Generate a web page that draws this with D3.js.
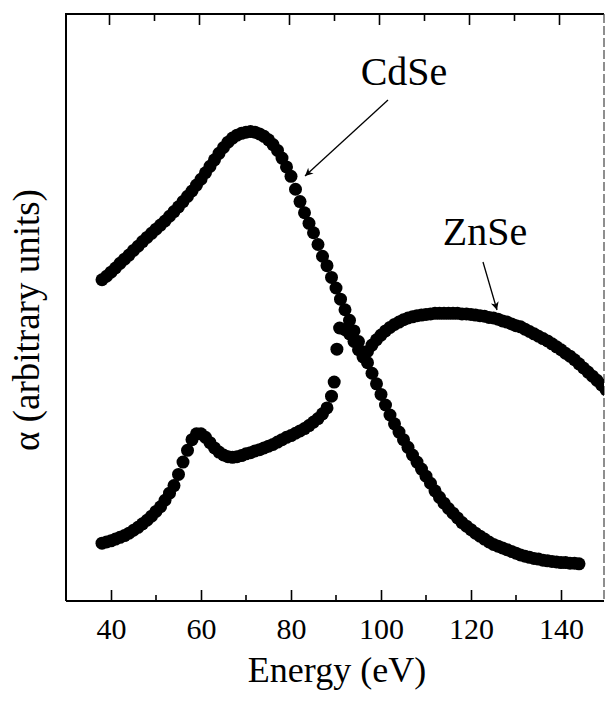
<!DOCTYPE html>
<html>
<head>
<meta charset="utf-8">
<script src="https://cdn.jsdelivr.net/npm/d3@7"></script>
<style>
  html, body { margin: 0; padding: 0; background: #fff; }
  svg { display: block; }
  svg text { fill: #000; }
</style>
</head>
<body>
<svg id="chart" width="605" height="705"></svg>
<script>
// Absorption coefficient (arbitrary units) versus photon energy (eV)
const cdseEnergy = [38,39,40,41,42,43,44,45,46,47,48,49,50,51,52,53,54,55,56,57,58,59,60,61,62,63,64,65,66,67,68,69,70,71,72,73,74,75,76,77,78,79,80,81,82,83,84,85,86,87,88,89,90,91,92,93,94,95,96,97,98,99,100,101,102,103,104,105,106,107,108,109,110,111,112,113,114,115,116,117,118,119,120,121,122,123,124,125,126,127,128,129,130,131,132,133,134,135,136,137,138,139,140,141,142,143,144];
const cdseAlpha = [54.8,55.4,56.1,56.8,57.6,58.3,59.0,59.8,60.5,61.3,62.0,62.7,63.4,64.1,64.8,65.6,66.4,67.2,68.1,69.0,69.9,70.9,71.9,73.0,74.1,75.2,76.3,77.3,78.2,78.9,79.4,79.7,79.9,80.0,79.9,79.6,79.2,78.6,77.8,76.8,75.5,74.0,72.4,70.2,68.1,66.2,64.4,62.8,60.8,58.8,57.2,55.2,53.4,51.5,49.7,47.9,46.1,44.3,42.5,40.7,38.9,37.1,35.3,33.5,31.8,30.3,28.9,27.6,26.3,25.0,23.8,22.6,21.4,20.2,18.9,17.8,16.8,15.9,15.1,14.3,13.5,12.9,12.3,11.7,11.2,10.7,10.2,9.8,9.5,9.2,8.9,8.6,8.3,8.0,7.8,7.6,7.4,7.3,7.1,7.0,6.9,6.8,6.7,6.7,6.6,6.6,6.5];

const znseEnergy = [38,39,40,41,42,43,44,45,46,47,48,49,50,51,52,53,54,55,56,57,58,59,60,61,62,63,64,65,66,67,68,69,70,71,72,73,74,75,76,77,78,79,80,81,82,83,84,85,86,87,88,89,89.6,90.2,90.8,92,93,94,95,96,97,98,99,100,101,102,103,104,105,106,107,108,109,110,111,112,113,114,115,116,117,118,119,120,121,122,123,124,125,126,127,128,129,130,131,132,133,134,135,136,137,138,139,140,141,142,143,144,145,146,147,148,149,150];
const znseAlpha = [10.0,10.2,10.4,10.7,11.0,11.3,11.7,12.2,12.7,13.3,13.9,14.6,15.4,16.2,17.3,18.5,19.8,21.7,23.8,25.8,27.6,28.6,28.6,28.0,27.1,26.2,25.5,25.0,24.7,24.6,24.7,24.9,25.2,25.4,25.7,25.9,26.2,26.5,26.8,27.2,27.6,28.0,28.3,28.7,29.1,29.5,30.0,30.6,31.2,32.0,33.0,35.0,37.4,43.0,46.6,46.3,45.6,44.3,42.9,41.7,42.6,43.7,44.6,45.4,46.1,46.7,47.2,47.6,48.0,48.3,48.5,48.7,48.8,48.9,49.0,49.1,49.1,49.1,49.1,49.1,49.1,49.0,49.0,48.9,48.8,48.7,48.6,48.4,48.3,48.1,47.8,47.6,47.3,47.0,46.8,46.4,46.0,45.6,45.2,44.8,44.4,43.9,43.4,42.9,42.3,41.8,41.2,40.5,39.8,39.1,38.4,37.7,36.9,36.1];

const majorTicks = [40, 60, 80, 100, 120, 140];
const minorTicks = [50, 70, 90, 110, 130];

const serif = '"Liberation Serif", "Times New Roman", Tinos, Times, "DejaVu Serif", serif';

const svg = d3.select("#chart").attr("font-family", serif);
const plotLeft = 66, plotRight = 604, plotTop = 14, plotBottom = 601;

const x = d3.scaleLinear().domain([30, 150]).range([66, 606]);
const y = d3.scaleLinear().domain([0, 100]).range([602, 14]);

const defs = svg.append("defs");
// clip region for the data
defs.append("clipPath").attr("id", "plotClip")
  .append("rect").attr("x", plotLeft).attr("y", plotTop)
  .attr("width", plotRight - plotLeft).attr("height", plotBottom - plotTop);

// arrowhead marker
defs.append("marker")
  .attr("id", "head").attr("viewBox", "0 0 10 10")
  .attr("refX", 10).attr("refY", 5)
  .attr("markerWidth", 12).attr("markerHeight", 8)
  .attr("markerUnits", "userSpaceOnUse")
  .attr("orient", "auto")
  .append("path").attr("d", "M0,0 L10,5 L0,10 L3,5 Z").attr("fill", "#000");

// frame
svg.append("line").attr("x1", plotLeft).attr("x2", plotLeft).attr("y1", plotTop).attr("y2", plotBottom)
  .attr("stroke", "#000").attr("stroke-width", 2);
svg.append("line").attr("x1", plotLeft - 1).attr("x2", plotRight).attr("y1", plotTop).attr("y2", plotTop)
  .attr("stroke", "#000").attr("stroke-width", 2);
svg.append("line").attr("x1", plotRight).attr("x2", plotRight).attr("y1", plotTop).attr("y2", plotBottom)
  .attr("stroke", "#444").attr("stroke-width", 1.2).attr("stroke-dasharray", "9,3");

// bottom axis (ticks pointing into the plot)
const xAxis = d3.axisBottom(x).tickValues(majorTicks).tickSize(-11).tickSizeOuter(0).tickPadding(17);
const gx = svg.append("g").attr("transform", `translate(0,${plotBottom})`).call(xAxis)
  .attr("font-family", serif).attr("font-size", 30);
gx.select(".domain").attr("d", `M${plotLeft},0H${plotRight}`).attr("stroke-width", 2);
gx.selectAll(".tick line").attr("stroke-width", 1.6);
gx.selectAll(".minor").data(minorTicks).enter().append("line")
  .attr("class", "minor")
  .attr("x1", d => x(d)).attr("x2", d => x(d)).attr("y1", 0).attr("y2", -6)
  .attr("stroke", "#000").attr("stroke-width", 1.6);

// top axis ticks
const gt = svg.append("g").attr("transform", `translate(0,${plotTop})`);
gt.selectAll("line.maj").data(majorTicks).enter().append("line")
  .attr("class", "maj")
  .attr("x1", d => x(d) - 1.5).attr("x2", d => x(d) - 1.5).attr("y1", 0).attr("y2", 11)
  .attr("stroke", "#000").attr("stroke-width", 1.6);
gt.selectAll("line.min").data(minorTicks).enter().append("line")
  .attr("class", "min")
  .attr("x1", d => x(d) - 1.5).attr("x2", d => x(d) - 1.5).attr("y1", 0).attr("y2", 7)
  .attr("stroke", "#000").attr("stroke-width", 1.6);

// data points
const plot = svg.append("g").attr("clip-path", "url(#plotClip)");
const zn = znseEnergy.map((e, i) => [e, znseAlpha[i]]);
const cd = cdseEnergy.map((e, i) => [e, cdseAlpha[i]]);
plot.selectAll("circle.zn").data(zn).enter().append("circle")
  .attr("class", "zn")
  .attr("cx", d => x(d[0])).attr("cy", d => y(d[1])).attr("r", 6.5).attr("fill", "#000");
plot.selectAll("circle.cd").data(cd).enter().append("circle")
  .attr("class", "cd")
  .attr("cx", d => x(d[0])).attr("cy", d => y(d[1])).attr("r", 6.5).attr("fill", "#000");

// labels with arrows
svg.append("text").attr("x", 404).attr("y", 85).attr("text-anchor", "middle")
  .attr("font-size", 40).text("CdSe");
svg.append("line").attr("x1", 388).attr("y1", 100).attr("x2", 305).attr("y2", 176)
  .attr("stroke", "#000").attr("stroke-width", 1.3).attr("marker-end", "url(#head)");

svg.append("text").attr("x", 485).attr("y", 245).attr("text-anchor", "middle")
  .attr("font-size", 40).text("ZnSe");
svg.append("line").attr("x1", 483).attr("y1", 262).attr("x2", 497).attr("y2", 310)
  .attr("stroke", "#000").attr("stroke-width", 1.3).attr("marker-end", "url(#head)");

// axis titles
svg.append("text").attr("x", 337).attr("y", 682).attr("text-anchor", "middle")
  .attr("font-size", 36).text("Energy (eV)");
svg.append("text").attr("transform", "translate(39,320) rotate(-90)").attr("text-anchor", "middle")
  .attr("font-size", 37).text("α (arbitrary units)");
</script>
</body>
</html>
